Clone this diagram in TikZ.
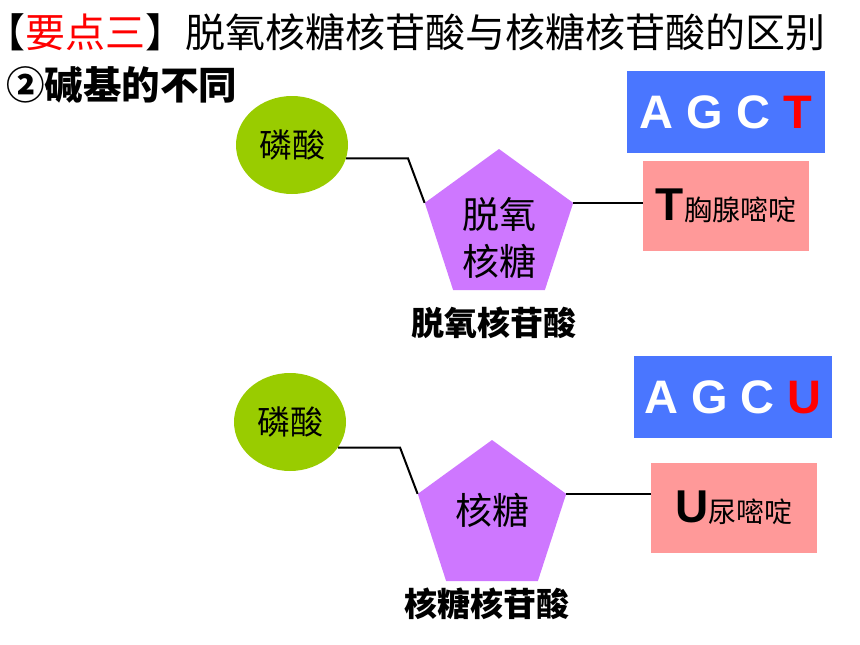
\documentclass[tikz,border=0pt]{standalone}
\usepackage{fontspec}
\setmainfont{Liberation Sans}
\newfontfamily\cjk{Noto Sans CJK SC}
\usetikzlibrary{shapes.geometric, positioning}
\definecolor{mygreen}{RGB}{153,204,0}
\definecolor{myviolet}{RGB}{206,119,255}
\definecolor{myblue}{RGB}{74,118,255}
\definecolor{mypink}{RGB}{255,153,153}
\definecolor{myred}{RGB}{255,0,0}
\newcommand{\sizept}[2]{\fontsize{#1}{#2}\selectfont}
\tikzset{
  phos/.style={ellipse, fill=mygreen, minimum width=112pt, minimum height=98pt,
    inner sep=0pt, font=\cjk\sizept{33}{36}},
  sugar/.style={regular polygon, regular polygon sides=5, fill=myviolet,
    minimum size=156pt, inner sep=0pt},
  sugartext/.style={align=center, inner sep=0pt, font=\cjk\sizept{37}{47}},
  seqbox/.style={rectangle, fill=myblue, minimum width=198pt, minimum height=82pt,
    inner sep=0pt, text=white, font=\bfseries\sizept{47}{50}},
  basebox/.style={rectangle, fill=mypink, minimum width=166pt, minimum height=90pt,
    inner sep=0pt},
  caption/.style={font=\cjk\bfseries\sizept{33}{36}},
  link/.style={line width=2pt, color=black}
}

\begin{document}
\begin{tikzpicture}[x=1pt, y=-1pt]
  \useasboundingbox (0,0) rectangle (860,645);

  % --- Title ---
  \node[anchor=west, inner sep=0pt, font=\cjk\sizept{40}{44}] (title) at (5,32)
    {{\addfontfeatures{RawFeature=+halt}【}\textcolor{myred}{要点三}】脱氧核糖核苷酸与核糖核苷酸的区别};
  \node[anchor=west, inner sep=0pt, font=\cjk\bfseries\sizept{38.5}{42}] (sub) at (6,85)
    {②碱基的不同};

  % --- Deoxyribonucleotide ---
  \node[phos] (P1) at (292,145) {磷酸};
  \node[sugar, label={[sugartext, yshift=-11pt]center:脱氧\\核糖}] (D1) at (499,227) {};
  \node[caption] (L1) at (494,323) {脱氧核苷酸};
  \node[seqbox] (S1) at (726,112) {A G C \textcolor{myred}{T}};
  \node[basebox] (B1) at (726,206)
    {\bfseries\sizept{46}{50}T{\cjk\mdseries\sizept{28}{30}胸腺嘧啶}};

  \draw[link] (P1.-14) -- ++(62,0) -- (D1.corner 2);
  \draw[link] (D1.corner 5) -- (D1.corner 5 -| B1.west);

  % --- Ribonucleotide ---
  \node[phos] (P2) at (290,422) {磷酸};
  \node[sugar, label={[sugartext, yshift=8pt]center:核糖}] (D2) at (492,518) {};
  \node[caption] (L2) at (487,604) {核糖核苷酸};
  \node[seqbox] (S2) at (733,397) {A G C \textcolor{myred}{U}};
  \node[basebox] (B2) at (734,508)
    {\bfseries\sizept{46}{50}U{\cjk\mdseries\sizept{28}{30}尿嘧啶}};

  \draw[link] (P2.-28) -- ++(62,0) -- (D2.corner 2);
  \draw[link] (D2.corner 5) -- (D2.corner 5 -| B2.west);
\end{tikzpicture}
\end{document}
